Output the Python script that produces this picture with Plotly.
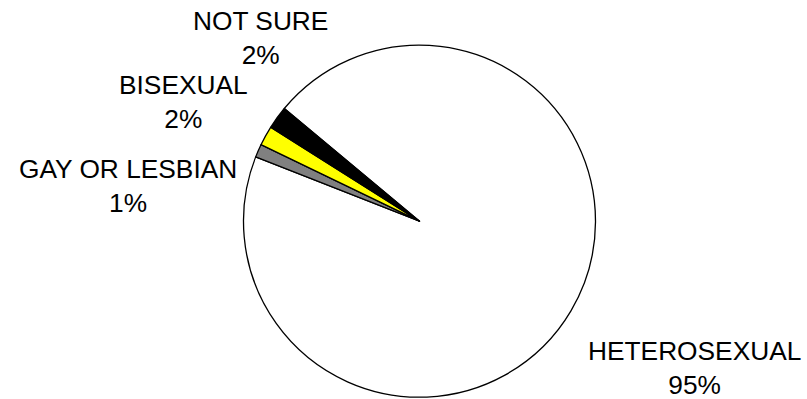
import plotly.graph_objects as go

labels = ["HETEROSEXUAL", "GAY OR LESBIAN", "BISEXUAL", "NOT SURE"]
values = [94.9, 1.2, 1.8, 2.1]
colors = ["#FFFFFF", "#808080", "#FFFF00", "#000000"]

W, H = 807, 399
cx, cy, r = 419.5, 221.2, 176.0

fig = go.Figure(go.Pie(
    labels=labels,
    values=values,
    sort=False,
    direction="clockwise",
    rotation=-50.2,
    marker=dict(colors=colors, line=dict(color="#000000", width=1.3)),
    textinfo="none",
    hoverinfo="label+percent",
    domain=dict(x=[(cx - r) / W, (cx + r) / W], y=[1 - (cy + r) / H, 1 - (cy - r) / H]),
    showlegend=False,
))

# label positions in pixels (centre of the two-line block)
label_pos = {
    "HETEROSEXUAL": (694.5, 368.0),
    "GAY OR LESBIAN": (128.0, 185.5),
    "BISEXUAL": (183.8, 102.0),
    "NOT SURE": (260.0, 38.5),
}
total = sum(values)
for lab, val in zip(labels, values):
    px, py = label_pos[lab]
    fig.add_annotation(
        x=px / W, y=1 - py / H, xref="paper", yref="paper",
        text=f"{lab}<br>{round(val / total * 100)}%",
        showarrow=False, xanchor="center", yanchor="middle", align="center",
        font=dict(family="Liberation Sans, Arial, sans-serif", size=26.3, color="#000000"),
    )

fig.update_layout(
    width=W, height=H,
    margin=dict(l=0, r=0, t=0, b=0),
    paper_bgcolor="#FFFFFF",
    plot_bgcolor="#FFFFFF",
)
fig.write_html(
    "out.html",
    config={"displayModeBar": False},
    post_script="document.body.style.margin='0';document.body.style.overflow='hidden';",
)
